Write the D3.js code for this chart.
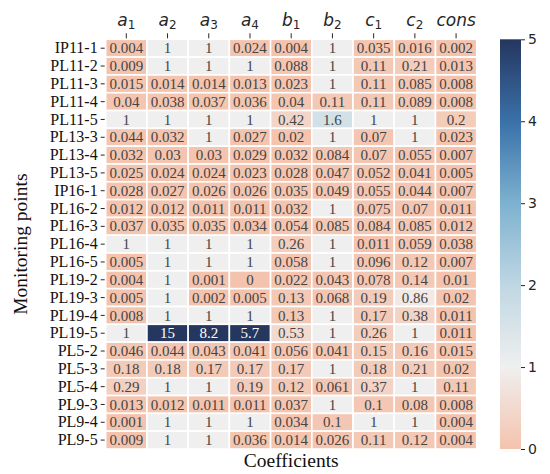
<!DOCTYPE html>
<html>
<head>
<meta charset="utf-8">
<script src="https://cdn.jsdelivr.net/npm/d3@7"></script>
<style>
  html, body { margin: 0; padding: 0; background: #fff; }
  svg { display: block; }
</style>
</head>
<body>
<svg id="chart" width="550" height="474"></svg>
<script>
// Coefficient columns (base letter + subscript)
const coefficients = [
  { base: "a", sub: "1" }, { base: "a", sub: "2" }, { base: "a", sub: "3" },
  { base: "a", sub: "4" }, { base: "b", sub: "1" }, { base: "b", sub: "2" },
  { base: "c", sub: "1" }, { base: "c", sub: "2" }, { base: "cons", sub: "" }
];

const monitoringPoints = [
  "IP11-1", "PL11-2", "PL11-3", "PL11-4", "PL11-5", "PL13-3", "PL13-4", "PL13-5",
  "IP16-1", "PL16-2", "PL16-3", "PL16-4", "PL16-5", "PL19-2", "PL19-3", "PL19-4",
  "PL19-5", "PL5-2", "PL5-3", "PL5-4", "PL9-3", "PL9-4", "PL9-5"
];

// One row of values per monitoring point, in coefficient order
const values = [
  [0.004, 1, 1, 0.024, 0.004, 1, 0.035, 0.016, 0.002],
  [0.009, 1, 1, 1, 0.088, 1, 0.11, 0.21, 0.013],
  [0.015, 0.014, 0.014, 0.013, 0.023, 1, 0.11, 0.085, 0.008],
  [0.04, 0.038, 0.037, 0.036, 0.04, 0.11, 0.11, 0.089, 0.008],
  [1, 1, 1, 1, 0.42, 1.6, 1, 1, 0.2],
  [0.044, 0.032, 1, 0.027, 0.02, 1, 0.07, 1, 0.023],
  [0.032, 0.03, 0.03, 0.029, 0.032, 0.084, 0.07, 0.055, 0.007],
  [0.025, 0.024, 0.024, 0.023, 0.028, 0.047, 0.052, 0.041, 0.005],
  [0.028, 0.027, 0.026, 0.026, 0.035, 0.049, 0.055, 0.044, 0.007],
  [0.012, 0.012, 0.011, 0.011, 0.032, 1, 0.075, 0.07, 0.011],
  [0.037, 0.035, 0.035, 0.034, 0.054, 0.085, 0.084, 0.085, 0.012],
  [1, 1, 1, 1, 0.26, 1, 0.011, 0.059, 0.038],
  [0.005, 1, 1, 1, 0.058, 1, 0.096, 0.12, 0.007],
  [0.004, 1, 0.001, 0, 0.022, 0.043, 0.078, 0.14, 0.01],
  [0.005, 1, 0.002, 0.005, 0.13, 0.068, 0.19, 0.86, 0.02],
  [0.008, 1, 1, 1, 0.13, 1, 0.17, 0.38, 0.011],
  [1, 15, 8.2, 5.7, 0.53, 1, 0.26, 1, 0.011],
  [0.046, 0.044, 0.043, 0.041, 0.056, 0.041, 0.15, 0.16, 0.015],
  [0.18, 0.18, 0.17, 0.17, 0.17, 1, 0.18, 0.21, 0.02],
  [0.29, 1, 1, 0.19, 0.12, 0.061, 0.37, 1, 0.11],
  [0.013, 0.012, 0.011, 0.011, 0.037, 1, 0.1, 0.08, 0.008],
  [0.001, 1, 1, 1, 0.034, 0.1, 1, 1, 0.004],
  [0.009, 1, 1, 0.036, 0.014, 0.026, 0.11, 0.12, 0.004]
];

const colorTicks = [0, 1, 2, 3, 4, 5];

// Layout
const plotLeft = 105.7, plotRight = 476.7, plotTop = 39.3, plotBottom = 449;
const serif = "'Liberation Serif', 'Times New Roman', Times, serif";
const svg = d3.select("#chart");

const x = d3.scaleBand().domain(d3.range(coefficients.length)).range([plotLeft, plotRight]).padding(0);
const y = d3.scaleBand().domain(monitoringPoints).range([plotTop, plotBottom]).padding(0);

// Diverging colour scale centred on 1, clamped at 5
const color = d3.scaleLinear()
  .domain([0, 1, 2, 3, 4, 5])
  .range(["#f4c3ad", "#efefef", "#bfd7e3", "#7db1cf", "#3a71a9", "#25365f"])
  .interpolate(d3.interpolateRgb)
  .clamp(true);

const cells = [];
values.forEach((row, i) => row.forEach((v, j) => cells.push({ r: monitoringPoints[i], c: j, v })));

const g = svg.append("g");
g.selectAll("rect.cell").data(cells).join("rect")
  .attr("class", "cell")
  .attr("x", d => x(d.c))
  .attr("y", d => y(d.r))
  .attr("width", x.bandwidth())
  .attr("height", y.bandwidth())
  .attr("fill", d => color(d.v))
  .attr("stroke", "#ffffff")
  .attr("stroke-width", 1.6);

// Value annotations
g.selectAll("text.ann").data(cells).join("text")
  .attr("class", "ann")
  .attr("x", d => x(d.c) + x.bandwidth() / 2)
  .attr("y", d => y(d.r) + y.bandwidth() / 2)
  .attr("dy", "0.34em")
  .attr("text-anchor", "middle")
  .style("font-family", serif)
  .style("font-size", "15px")
  .attr("fill", d => {
    const c = d3.rgb(color(d.v));
    const lum = 0.2126 * c.r + 0.7152 * c.g + 0.0722 * c.b;
    return lum < 110 ? "#ffffff" : "#454545";
  })
  .text(d => String(d.v));

// Top axis with coefficient symbols
const xAxis = d3.axisTop(x).tickSize(5).tickPadding(3).tickFormat(() => "");
const xg = svg.append("g").attr("transform", `translate(0,${plotTop - 1})`).call(xAxis);
xg.select(".domain").remove();
xg.selectAll(".tick line").attr("stroke", "#262626").attr("stroke-width", 1);
xg.selectAll(".tick").each(function (d) {
  const coef = coefficients[d];
  const t = d3.select(this).append("text")
    .attr("y", -12)
    .attr("text-anchor", "middle")
    .attr("fill", "#262626")
    .style("font-family", "'DejaVu Sans', sans-serif")
    .style("font-size", "17px")
    .style("font-style", "italic");
  t.append("tspan").text(coef.base);
  if (coef.sub) {
    t.append("tspan").style("font-style", "normal").style("font-size", "12px")
      .attr("dy", 3).text(coef.sub);
  }
});

// Left axis with monitoring point names
const yAxis = d3.axisLeft(y).tickSize(4).tickPadding(3);
const yg = svg.append("g").attr("transform", `translate(${plotLeft - 1},0)`).call(yAxis);
yg.select(".domain").remove();
yg.selectAll(".tick line").attr("stroke", "#262626");
yg.selectAll(".tick text")
  .style("font-family", serif)
  .style("font-size", "16px")
  .attr("fill", "#111");

// Axis titles
svg.append("text")
  .attr("x", (plotLeft + plotRight) / 2).attr("y", 467)
  .attr("text-anchor", "middle")
  .style("font-family", serif)
  .style("font-size", "19.5px")
  .attr("fill", "#111")
  .text("Coefficients");

svg.append("text")
  .attr("transform", `translate(27,${(plotTop + plotBottom) / 2}) rotate(-90)`)
  .attr("text-anchor", "middle")
  .style("font-family", serif)
  .style("font-size", "19.5px")
  .attr("fill", "#111")
  .text("Monitoring points");

// Colour bar
const cbX = 500, cbW = 21;
const cbScale = d3.scaleLinear().domain([0, 5]).range([plotBottom, plotTop]);
const defs = svg.append("defs");
const grad = defs.append("linearGradient").attr("id", "cbgrad")
  .attr("x1", 0).attr("y1", 1).attr("x2", 0).attr("y2", 0);
d3.range(0, 5.001, 0.1).forEach(v => {
  grad.append("stop").attr("offset", v / 5).attr("stop-color", color(v));
});
svg.append("rect")
  .attr("x", cbX).attr("y", plotTop)
  .attr("width", cbW).attr("height", plotBottom - plotTop)
  .attr("fill", "url(#cbgrad)");

const cbAxis = d3.axisRight(cbScale).tickValues(colorTicks).tickSize(4).tickPadding(3)
  .tickFormat(d3.format("d"));
const cg = svg.append("g").attr("transform", `translate(${cbX + cbW},0)`).call(cbAxis);
cg.select(".domain").remove();
cg.selectAll(".tick line").attr("stroke", "#262626");
cg.selectAll(".tick text")
  .style("font-family", "'DejaVu Sans', sans-serif")
  .style("font-size", "14px")
  .attr("fill", "#262626");
</script>
</body>
</html>
